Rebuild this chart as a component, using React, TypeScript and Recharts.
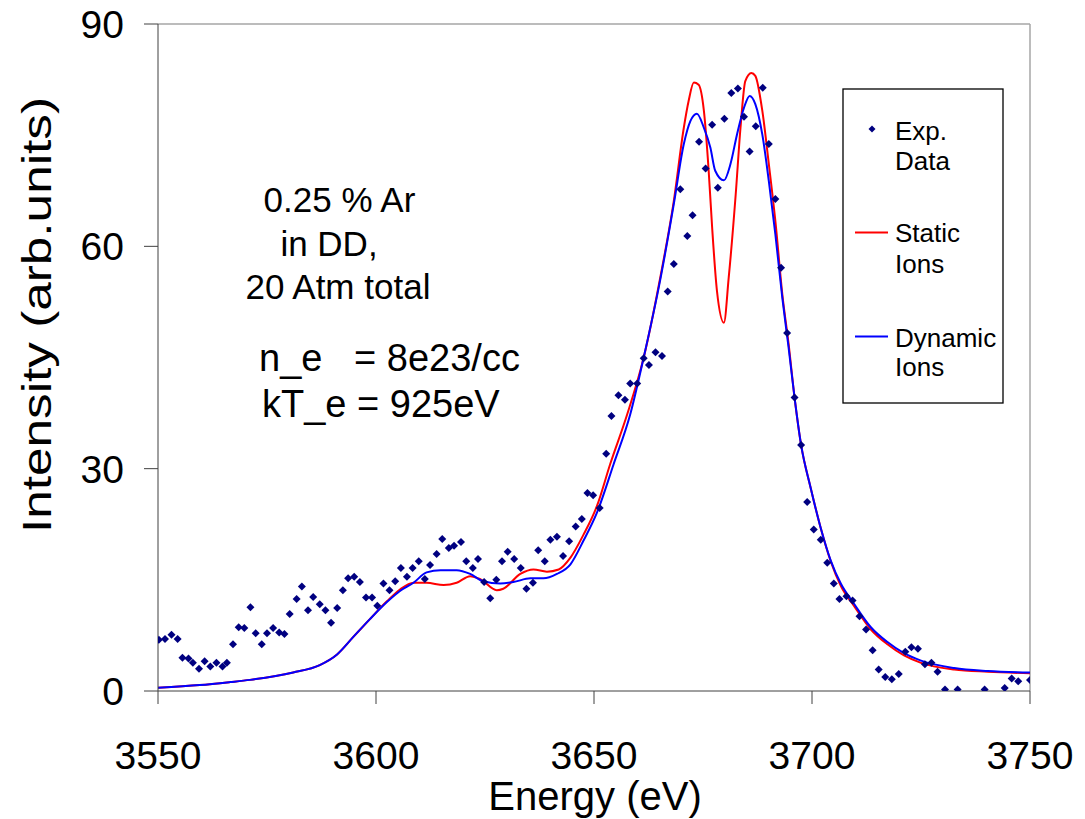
import React from 'react';
import { ComposedChart, Scatter, Line, XAxis, YAxis, ReferenceLine } from 'recharts';

const FONT = '"Liberation Sans", Arial, Helvetica, sans-serif';

const xTicks = [3550, 3600, 3650, 3700, 3750];
const yTicks = [0, 30, 60, 90];

const expEnergy = [3550.2,3551.6,3553.1,3554.5,3555.6,3557.0,3558.0,3559.4,3560.7,3562.0,3563.4,3564.8,3565.8,3567.2,3568.5,3569.8,3571.2,3572.4,3573.8,3575.0,3576.4,3577.8,3579.0,3580.2,3581.8,3583.0,3584.4,3585.6,3587.1,3588.4,3589.7,3591.1,3592.4,3593.6,3595.0,3596.3,3597.7,3599.1,3600.3,3601.7,3603.1,3604.4,3605.7,3607.1,3608.4,3609.8,3611.2,3612.4,3613.9,3615.2,3616.7,3617.9,3619.5,3620.7,3622.2,3623.4,3624.8,3626.2,3627.6,3628.9,3630.2,3631.7,3633.2,3634.5,3636.0,3637.2,3638.7,3640.0,3641.5,3642.9,3644.3,3645.8,3647.2,3648.5,3649.8,3651.3,3652.8,3654.0,3655.6,3657.1,3658.3,3659.9,3661.4,3662.6,3664.1,3665.6,3666.9,3668.3,3669.8,3671.4,3672.6,3674.1,3675.6,3677.1,3678.4,3679.9,3681.5,3683.0,3684.4,3685.7,3687.1,3688.7,3690.1,3691.6,3692.9,3694.3,3696.0,3697.5,3698.9,3700.4,3702.0,3703.5,3705.0,3706.3,3707.9,3709.3,3710.9,3712.4,3713.9,3715.3,3716.8,3718.3,3719.9,3721.4,3722.8,3724.3,3725.9,3727.4,3728.8,3730.5,3733.4,3739.6,3744.2,3745.8,3747.3,3750.0];
const expIntensity = [6.9,7.0,7.6,7.0,4.5,4.4,3.8,3.0,4.0,3.3,3.8,3.3,3.8,6.3,8.6,8.5,11.3,7.8,6.3,7.8,8.5,7.9,7.7,10.4,12.4,14.1,10.9,12.7,11.7,10.9,9.2,11.2,13.6,15.2,15.4,14.7,12.6,12.6,11.5,14.5,13.6,14.8,16.6,15.4,16.6,17.5,15.1,17.0,18.5,20.5,19.3,19.6,20.1,17.5,16.6,17.8,14.7,12.5,15.0,17.5,18.8,17.8,16.6,13.8,14.6,19.0,17.5,20.4,20.8,18.2,20.2,22.2,23.2,26.7,26.4,24.7,32.0,37.1,39.9,39.3,41.5,41.5,44.9,44.0,45.7,45.2,53.9,57.6,67.7,61.4,64.2,74.1,70.5,76.4,67.9,77.2,80.7,81.3,77.5,72.8,76.2,81.4,73.8,66.4,57.1,48.3,39.6,33.2,25.5,21.8,20.4,17.3,14.5,12.4,12.8,12.2,10.1,8.3,5.5,2.9,1.9,1.6,2.3,5.3,5.9,5.7,3.6,3.8,2.6,0.2,0.2,0.2,0.4,1.7,1.3,1.5];

const staticEnergy = [3550,3559.6,3566.5,3571.1,3581.0,3587.1,3591.0,3594.8,3598.6,3602.5,3605.5,3608.6,3611.6,3615.5,3618.5,3621.6,3623.9,3627.7,3629.2,3633.1,3636.1,3639.2,3641.9,3644.6,3647.6,3650.7,3653.7,3657.6,3661.4,3665.2,3668.3,3670.6,3671.7,3672.9,3674.0,3675.2,3676.3,3677.1,3678.2,3679.8,3680.9,3682.5,3683.6,3684.7,3686.1,3687.0,3688.6,3690.1,3691.6,3693.2,3694.6,3696.0,3697.5,3699.7,3702.0,3704.3,3706.6,3709.6,3713.5,3717.3,3721.1,3725.0,3732.6,3740.3,3750];
const staticIntensity = [0.45,0.8,1.2,1.5,2.5,3.5,4.9,7.3,9.7,12.1,13.7,14.6,14.6,14.3,14.6,15.5,15.1,13.6,13.8,15.8,16.4,16.1,16.4,18.0,21.1,25.0,30.6,37.3,45.0,55.8,66.1,76.0,79.6,82.1,81.8,78.3,70.2,62.5,54.0,49.7,55.8,67.0,76.0,82.3,83.4,83.0,78.3,71.1,63.4,53.5,47.0,39.6,33.2,27.4,22.0,17.5,14.2,11.5,8.3,6.3,4.8,3.8,2.9,2.6,2.4];

const dynamicEnergy = [3550,3559.6,3566.5,3571.1,3581.0,3587.1,3591.0,3594.8,3598.6,3602.5,3605.5,3608.6,3611.6,3614.8,3618.5,3621.6,3624.6,3628.5,3631.5,3635.4,3638.4,3641.5,3644.6,3647.6,3650.7,3654.5,3658.3,3661.4,3665.2,3668.3,3670.6,3672.1,3673.6,3675.2,3676.7,3677.8,3679.8,3681.3,3682.8,3684.4,3685.7,3687.0,3688.6,3690.1,3691.6,3693.2,3694.6,3696.0,3697.5,3699.7,3702.0,3704.3,3706.6,3709.6,3713.5,3717.3,3721.1,3725.0,3732.6,3740.3,3750];
const dynamicIntensity = [0.45,0.8,1.2,1.5,2.5,3.5,4.9,7.3,9.7,12.0,13.5,14.6,16.0,16.3,16.3,15.8,14.8,14.5,14.7,15.2,15.2,15.8,17.1,20.3,24.1,30.6,37.3,45.0,55.5,65.7,73.8,76.9,77.9,76.0,73.3,70.2,68.9,71.1,75.1,78.7,80.3,79.2,75.1,68.8,61.6,53.0,46.5,39.6,33.2,27.4,22.0,17.6,14.5,11.8,8.6,6.6,5.1,4.1,3.1,2.7,2.5];

const expData = expEnergy.map((x, i) => ({ x, y: expIntensity[i] }));
const staticData = staticEnergy.map((x, i) => ({ x, y: staticIntensity[i] }));
const dynamicData = dynamicEnergy.map((x, i) => ({ x, y: dynamicIntensity[i] }));

const Diamond = (props: any) => {
  const { cx, cy } = props;
  if (cx == null || cy == null) return null;
  const r = 4;
  return <path d={`M${cx},${cy - r}L${cx + r},${cy}L${cx},${cy + r}L${cx - r},${cy}Z`} fill="#000080" />;
};

export default function App() {
  return (
    <div style={{ position: 'relative', width: 1085, height: 819, background: '#fff', fontFamily: FONT, overflow: 'hidden' }}>
      <style>{`body{margin:0;}`}</style>
      <ComposedChart width={1085} height={819} margin={{ top: 24, right: 55, bottom: 0, left: 0 }}>
        <XAxis
          dataKey="x"
          type="number"
          domain={[3550, 3750]}
          ticks={xTicks}
          interval={0}
          allowDataOverflow
          height={128}
          tickSize={13}
          tickMargin={37}
          stroke="#404040"
          tick={{ fill: '#000', fontSize: 39, fontFamily: FONT }}
        />
        <YAxis
          type="number"
          domain={[0, 90]}
          ticks={yTicks}
          interval={0}
          allowDataOverflow
          width={158}
          tickSize={14}
          tickMargin={20}
          stroke="#404040"
          tick={{ fill: '#000', fontSize: 39, fontFamily: FONT }}
        />
        <ReferenceLine y={90} stroke="#a6a6a6" strokeWidth={1.5} />
        <ReferenceLine x={3750} stroke="#a6a6a6" strokeWidth={1.5} />
        <Scatter data={expData} dataKey="y" fill="#000080" shape={<Diamond />} isAnimationActive={false} />
        <Line data={staticData} dataKey="y" type="monotone" stroke="#ff0000" strokeWidth={2} dot={false} isAnimationActive={false} />
        <Line data={dynamicData} dataKey="y" type="monotone" stroke="#0000ff" strokeWidth={2} dot={false} isAnimationActive={false} />
      </ComposedChart>
      <svg width={1085} height={819} style={{ position: 'absolute', left: 0, top: 0, pointerEvents: 'none' }} fontFamily={FONT}>
        <text x={51} y={315} transform="rotate(-90 51 315)" textAnchor="middle" fontSize={41} fill="#000" textLength={436} lengthAdjust="spacingAndGlyphs">Intensity (arb.units)</text>
        <text x={595} y={810} textAnchor="middle" fontSize={40} fill="#000">Energy (eV)</text>

        <text x={339.5} y={212} textAnchor="middle" fontSize={35} fill="#000">0.25 % Ar</text>
        <text x={329} y={256} textAnchor="middle" fontSize={35} fill="#000">in DD,</text>
        <text x={338} y={299} textAnchor="middle" fontSize={35} fill="#000">20 Atm total</text>
        <text x={259} y={371} fontSize={38} fill="#000" style={{ whiteSpace: 'pre' }} xmlSpace="preserve">{'n_e   = 8e23/cc'}</text>
        <text x={262} y={417} fontSize={38} fill="#000">kT_e = 925eV</text>

        <rect x={843} y={89} width={160} height={314} fill="#fff" stroke="#000" strokeWidth={1.3} />
        <path d="M872,125.5L875.5,129L872,132.5L868.5,129Z" fill="#000080" />
        <text x={895} y={140} fontSize={26} fill="#000">Exp.</text>
        <text x={895} y={169.5} fontSize={26} fill="#000">Data</text>
        <line x1={855} x2={888} y1={232.5} y2={232.5} stroke="#ff0000" strokeWidth={2} />
        <text x={895} y={242} fontSize={26} fill="#000">Static</text>
        <text x={895} y={272.5} fontSize={26} fill="#000">Ions</text>
        <line x1={855} x2={888} y1={336.5} y2={336.5} stroke="#0000ff" strokeWidth={2} />
        <text x={895} y={347} fontSize={26} fill="#000">Dynamic</text>
        <text x={895} y={376} fontSize={26} fill="#000">Ions</text>
      </svg>
    </div>
  );
}
